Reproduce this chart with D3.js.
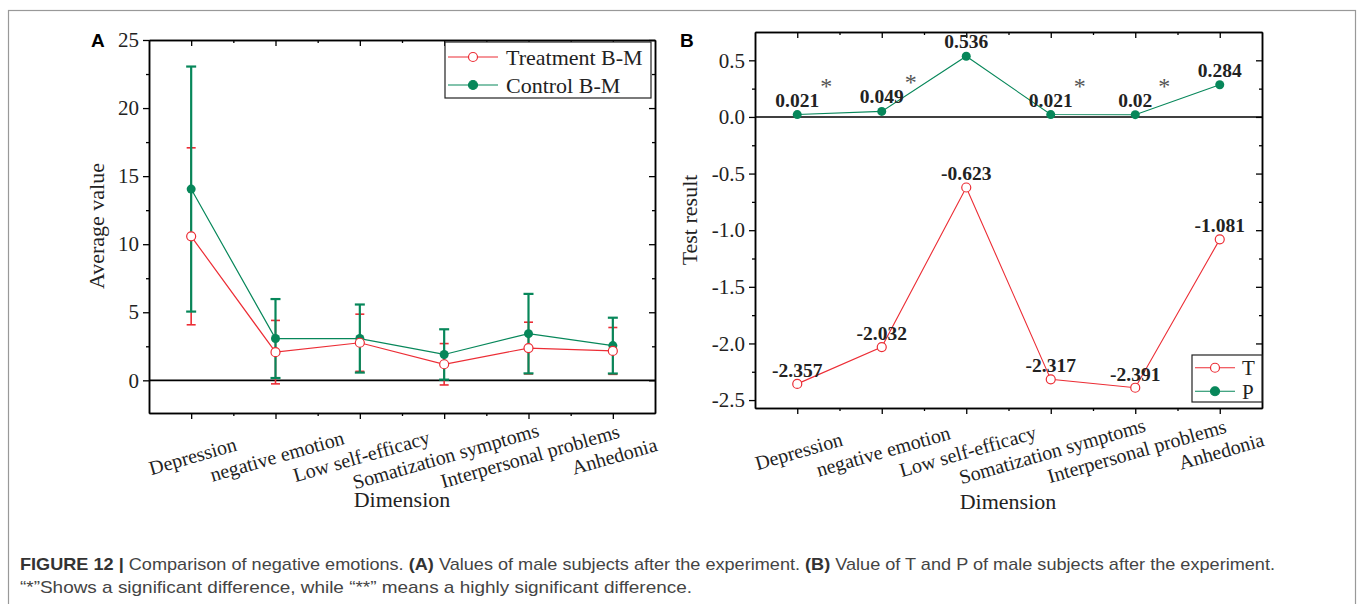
<!DOCTYPE html>
<html lang="en">
<head>
<meta charset="utf-8">
<style>
  body { margin: 0; background: white; }
  svg { font-family: "Liberation Serif", "Times New Roman", serif; }
  .frame path.domain { stroke: #000; stroke-width: 1.5; }
  .frame line { stroke: #000; stroke-width: 1.3; }
  .frame text { font-family: "Liberation Serif", "Times New Roman", serif; font-size: 21px; fill: #222; }
  .caption { font-family: "Liberation Sans", Arial, sans-serif; font-size: 17px; fill: #444; }
</style>
</head>
<body>
<svg width="1360" height="604"></svg>
<script src="https://cdnjs.cloudflare.com/ajax/libs/d3/7.8.5/d3.min.js"></script>
<script>
// categories shared by both panels
const dimensions = ["Depression", "negative emotion", "Low self-efficacy",
  "Somatization symptoms", "Interpersonal problems", "Anhedonia"];

// panel A: means and error (SD) per group
const treatmentMean = [10.58, 2.07, 2.76, 1.18, 2.37, 2.16];
const treatmentErr  = [6.5, 2.33, 2.1, 1.52, 1.9, 1.72];
const controlMean   = [14.05, 3.07, 3.07, 1.9, 3.43, 2.55];
const controlErr    = [9.0, 2.9, 2.5, 1.85, 2.92, 2.05];

// panel B: T and P values
const tValues = [-2.357, -2.032, -0.623, -2.317, -2.391, -1.081];
const pValues = [0.021, 0.049, 0.536, 0.021, 0.02, 0.284];
const pSignificant = [true, true, false, true, true, false];

const yTicksA = [0, 5, 10, 15, 20, 25];
const yTicksB = [-2.5, -2, -1.5, -1, -0.5, 0, 0.5];

const RED = "#ec2d35", GREEN = "#07875a";

const svg = d3.select("svg");

// outer figure border
svg.append("rect").attr("x", 8.5).attr("y", 10.5).attr("width", 1347).attr("height", 700)
  .attr("fill", "none").attr("stroke", "#999").attr("stroke-width", 1.2);

function drawFrame(g, x, y, majorY, minorY, fmtY) {
  const [x0, x1] = x.range();
  const [y1, y0] = y.range();
  const majorX = d3.range(0, 6);
  const minorX = d3.range(0.5, 5, 1);

  // bottom
  g.append("g").attr("class", "frame").attr("transform", `translate(0,${y1})`)
    .call(d3.axisBottom(x).tickValues(majorX).tickSize(6).tickSizeOuter(0)
      .tickFormat(i => dimensions[i]))
    .call(s => s.selectAll("text")
      .attr("y", 0).attr("dy", "0.35em")
      .attr("transform", "translate(1,43) rotate(-16)")
      .attr("text-anchor", "middle").style("font-size", "20px"));
  g.append("g").attr("class", "frame").attr("transform", `translate(0,${y1})`)
    .call(d3.axisBottom(x).tickValues(minorX).tickSize(3).tickSizeOuter(0).tickFormat(""));
  // top
  g.append("g").attr("class", "frame").attr("transform", `translate(0,${y0})`)
    .call(d3.axisTop(x).tickValues(majorX).tickSize(-6).tickSizeOuter(0).tickFormat(""));
  g.append("g").attr("class", "frame").attr("transform", `translate(0,${y0})`)
    .call(d3.axisTop(x).tickValues(minorX).tickSize(-3).tickSizeOuter(0).tickFormat(""));
  // left
  g.append("g").attr("class", "frame").attr("transform", `translate(${x0},0)`)
    .call(d3.axisLeft(y).tickValues(majorY).tickSize(6).tickSizeOuter(0).tickPadding(4).tickFormat(fmtY));
  g.append("g").attr("class", "frame").attr("transform", `translate(${x0},0)`)
    .call(d3.axisLeft(y).tickValues(minorY).tickSize(3).tickSizeOuter(0).tickFormat(""));
  // right
  g.append("g").attr("class", "frame").attr("transform", `translate(${x1},0)`)
    .call(d3.axisRight(y).tickValues(majorY).tickSize(-6).tickSizeOuter(0).tickFormat(""));
  g.append("g").attr("class", "frame").attr("transform", `translate(${x1},0)`)
    .call(d3.axisRight(y).tickValues(minorY).tickSize(-3).tickSizeOuter(0).tickFormat(""));

  // zero line
  g.append("line").attr("x1", x0).attr("x2", x1).attr("y1", y(0)).attr("y2", y(0))
    .attr("stroke", "#000").attr("stroke-width", 1.6);
}

function legend(g, x, y, w, h, items, fontSize, lineLen, gap) {
  const lg = g.append("g").attr("transform", `translate(${x},${y})`);
  lg.append("rect").attr("width", w).attr("height", h)
    .attr("fill", "white").attr("stroke", "#222").attr("stroke-width", 1.2);
  items.forEach((it, i) => {
    const cy = h / 4 + i * h / 2 + 1;
    lg.append("line").attr("x1", 3).attr("x2", 3 + lineLen).attr("y1", cy).attr("y2", cy)
      .attr("stroke", it.color).attr("stroke-width", 1.2);
    lg.append("circle").attr("cx", 3 + lineLen / 2).attr("cy", cy).attr("r", 4.5)
      .attr("fill", it.open ? "white" : it.color).attr("stroke", it.color).attr("stroke-width", 1.2);
    lg.append("text").attr("x", 3 + lineLen + gap).attr("y", cy).attr("dy", "0.35em")
      .style("font-size", fontSize + "px").attr("fill", "#222").text(it.label);
  });
}

// ---------------- Panel A ----------------
const xA = d3.scaleLinear().domain([-0.5, 5.5]).range([149, 655]);
const yA = d3.scaleLinear().domain([-2.4, 25]).range([413, 40]);
const gA = svg.append("g");
drawFrame(gA, xA, yA, yTicksA, [2.5, 7.5, 12.5, 17.5, 22.5], d3.format("d"));

function errorBars(g, means, errs, color, capW, sw) {
  means.forEach((m, i) => {
    const cx = xA(i), top = yA(m + errs[i]), bot = yA(m - errs[i]);
    g.append("line").attr("x1", cx).attr("x2", cx).attr("y1", top).attr("y2", bot)
      .attr("stroke", color).attr("stroke-width", sw);
    [top, bot].forEach(yy => g.append("line")
      .attr("x1", cx - capW / 2).attr("x2", cx + capW / 2).attr("y1", yy).attr("y2", yy)
      .attr("stroke", color).attr("stroke-width", sw));
  });
}
errorBars(gA, treatmentMean, treatmentErr, RED, 9, 1.6);
errorBars(gA, controlMean, controlErr, GREEN, 10, 2.2);

const lineA = d3.line().x((d, i) => xA(i)).y(d => yA(d));
gA.append("path").datum(controlMean).attr("d", lineA).attr("fill", "none")
  .attr("stroke", GREEN).attr("stroke-width", 1.2);
gA.append("path").datum(treatmentMean).attr("d", lineA).attr("fill", "none")
  .attr("stroke", RED).attr("stroke-width", 1.2);
gA.selectAll("circle.ctrl").data(controlMean).join("circle").attr("class", "ctrl")
  .attr("cx", (d, i) => xA(i)).attr("cy", d => yA(d)).attr("r", 4.5).attr("fill", GREEN);
gA.selectAll("circle.trt").data(treatmentMean).join("circle").attr("class", "trt")
  .attr("cx", (d, i) => xA(i)).attr("cy", d => yA(d)).attr("r", 4.5)
  .attr("fill", "white").attr("stroke", RED).attr("stroke-width", 1.2);

legend(gA, 445, 42, 206, 56, [
  { label: "Treatment B-M", color: RED, open: true },
  { label: "Control B-M", color: GREEN, open: false }
], 22, 50, 8);

gA.append("text").attr("transform", "translate(104,226) rotate(-90)").attr("text-anchor", "middle")
  .style("font-size", "22px").attr("fill", "#222").text("Average value");
gA.append("text").attr("x", 402).attr("y", 507).attr("text-anchor", "middle")
  .style("font-size", "22px").attr("fill", "#222").text("Dimension");
gA.append("text").attr("x", 91).attr("y", 47)
  .style("font-family", "Liberation Sans, Arial, sans-serif").style("font-weight", "bold")
  .style("font-size", "19px").text("A");

// ---------------- Panel B ----------------
const xB = d3.scaleLinear().domain([-0.5, 5.5]).range([755, 1262]);
const yB = d3.scaleLinear().domain([-2.57, 0.75]).range([408, 32]);
const gB = svg.append("g");
drawFrame(gB, xB, yB, yTicksB, [-2.25, -1.75, -1.25, -0.75, -0.25, 0.25], d3.format(".1f"));
gB.selectAll(".frame text").text(function () { return this.textContent.replace("−", "-"); });

const lineB = d3.line().x((d, i) => xB(i)).y(d => yB(d));
gB.append("path").datum(tValues).attr("d", lineB).attr("fill", "none")
  .attr("stroke", RED).attr("stroke-width", 1.1);
gB.append("path").datum(pValues).attr("d", lineB).attr("fill", "none")
  .attr("stroke", GREEN).attr("stroke-width", 1.1);

gB.selectAll("circle.t").data(tValues).join("circle").attr("class", "t")
  .attr("cx", (d, i) => xB(i)).attr("cy", d => yB(d)).attr("r", 4.5)
  .attr("fill", "white").attr("stroke", RED).attr("stroke-width", 1.2);
gB.selectAll("circle.p").data(pValues).join("circle").attr("class", "p")
  .attr("cx", (d, i) => xB(i)).attr("cy", d => yB(d)).attr("r", 4.5).attr("fill", GREEN);

gB.selectAll("text.tl").data(tValues).join("text").attr("class", "tl")
  .attr("x", (d, i) => xB(i)).attr("y", d => yB(d) - 7).attr("text-anchor", "middle")
  .style("font-size", "19.5px").style("font-weight", "bold").attr("fill", "#222")
  .text(d => String(d));
gB.selectAll("text.pl").data(pValues).join("text").attr("class", "pl")
  .attr("x", (d, i) => xB(i)).attr("y", d => yB(d) - 8).attr("text-anchor", "middle")
  .style("font-size", "19.5px").style("font-weight", "bold").attr("fill", "#222")
  .text(d => String(d));
gB.selectAll("text.star").data(pValues.map((p, i) => ({ p, i })).filter(d => pSignificant[d.i]))
  .join("text").attr("class", "star")
  .attr("x", d => xB(d.i) + 29).attr("y", d => yB(d.p) - 21).attr("text-anchor", "middle")
  .style("font-size", "24px").attr("fill", "#555").text("*");

legend(gB, 1192, 355, 70, 47, [
  { label: "T", color: RED, open: true },
  { label: "P", color: GREEN, open: false }
], 21, 40, 7);

gB.append("text").attr("transform", "translate(697,220) rotate(-90)").attr("text-anchor", "middle")
  .style("font-size", "22px").attr("fill", "#222").text("Test result");
gB.append("text").attr("x", 1008).attr("y", 509).attr("text-anchor", "middle")
  .style("font-size", "22px").attr("fill", "#222").text("Dimension");
gB.append("text").attr("x", 680).attr("y", 47)
  .style("font-family", "Liberation Sans, Arial, sans-serif").style("font-weight", "bold")
  .style("font-size", "19px").text("B");

// ---------------- caption ----------------
const cap1 = svg.append("text").attr("class", "caption").attr("x", 20).attr("y", 570)
  .attr("textLength", 1255).attr("lengthAdjust", "spacingAndGlyphs");
cap1.append("tspan").style("font-weight", "bold").attr("fill", "#333").text("FIGURE 12 | ");
cap1.append("tspan").text("Comparison of negative emotions. ");
cap1.append("tspan").style("font-weight", "bold").attr("fill", "#333").text("(A)");
cap1.append("tspan").text(" Values of male subjects after the experiment. ");
cap1.append("tspan").style("font-weight", "bold").attr("fill", "#333").text("(B)");
cap1.append("tspan").text(" Value of T and P of male subjects after the experiment.");
svg.append("text").attr("class", "caption").attr("x", 20).attr("y", 593)
  .attr("textLength", 672).attr("lengthAdjust", "spacingAndGlyphs")
  .text("\u201C*\u201DShows a significant difference, while \u201C**\u201D means a highly significant difference.");
</script>
</body>
</html>
